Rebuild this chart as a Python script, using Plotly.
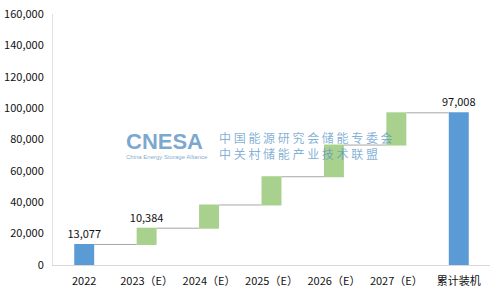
import plotly.graph_objects as go

categories = ["2022", "2023（E）", "2024（E）", "2025（E）", "2026（E）", "2027（E）", "累计装机"]
values = [13077, 10384, 14800, 18000, 20200, 20547, 97008]
measures = ["absolute", "relative", "relative", "relative", "relative", "relative", "total"]
labels = ["13,077", "10,384", "", "", "", "", "97,008"]
y_ticks = [0, 20000, 40000, 60000, 80000, 100000, 120000, 140000, 160000]

FONT = "Noto Sans CJK SC"

fig = go.Figure(go.Waterfall(
    x=categories, y=values, measure=measures,
    text=labels, textposition="outside", constraintext="none",
    textfont=dict(family=FONT, size=11, color="#111111"),
    increasing=dict(marker=dict(color="#A9D18E")),
    decreasing=dict(marker=dict(color="#A9D18E")),
    totals=dict(marker=dict(color="#5B9BD5")),
    connector=dict(line=dict(color="#A6A6A6", width=1)),
    width=0.32,
    cliponaxis=False,
))

def px_x(p):
    return (p - 53) / 437

def px_y(p):
    return (265 - p) / 251

wm = "rgba(79,140,192,0.75)"
fig.add_annotation(x=px_x(124), y=px_y(141), xref="paper", yref="paper", xanchor="left", yanchor="middle",
                   text="<b>CNESA</b>", showarrow=False,
                   font=dict(family="Liberation Sans", size=22, color=wm))
fig.add_annotation(x=px_x(124), y=px_y(157), xref="paper", yref="paper", xanchor="left", yanchor="middle",
                   text="China Energy Storage Alliance", showarrow=False,
                   font=dict(family="Liberation Sans", size=6, color=wm))
fig.add_annotation(x=px_x(217), y=px_y(145.5), xref="paper", yref="paper", xanchor="left", yanchor="middle",
                   align="left",
                   text="中 国 能 源 研 究 会 储 能 专 委 会<br>中 关 村 储 能 产 业 技 术 联 盟",
                   showarrow=False,
                   font=dict(family=FONT, size=12, color="rgba(90,150,200,0.75)"))

fig.update_layout(
    width=499, height=293,
    margin=dict(l=53, r=9, t=14, b=28),
    paper_bgcolor="white", plot_bgcolor="white",
    showlegend=False,
    font=dict(family=FONT, size=11, color="#333333"),
    xaxis=dict(showline=True, linecolor="#D9D9D9", linewidth=1, showgrid=False,
               tickfont=dict(family=FONT, size=11, color="#111111"), ticks="",
               ticklabelstandoff=6, automargin=False),
    yaxis=dict(range=[0, 160000], tickvals=y_ticks, tickformat=",",
               showline=True, linecolor="#E0E0E0", linewidth=1, showgrid=False,
               zeroline=False, ticks="", ticklabelstandoff=6, automargin=False,
               tickfont=dict(family=FONT, size=11, color="#111111")),
)

fig.write_html("out.html")
